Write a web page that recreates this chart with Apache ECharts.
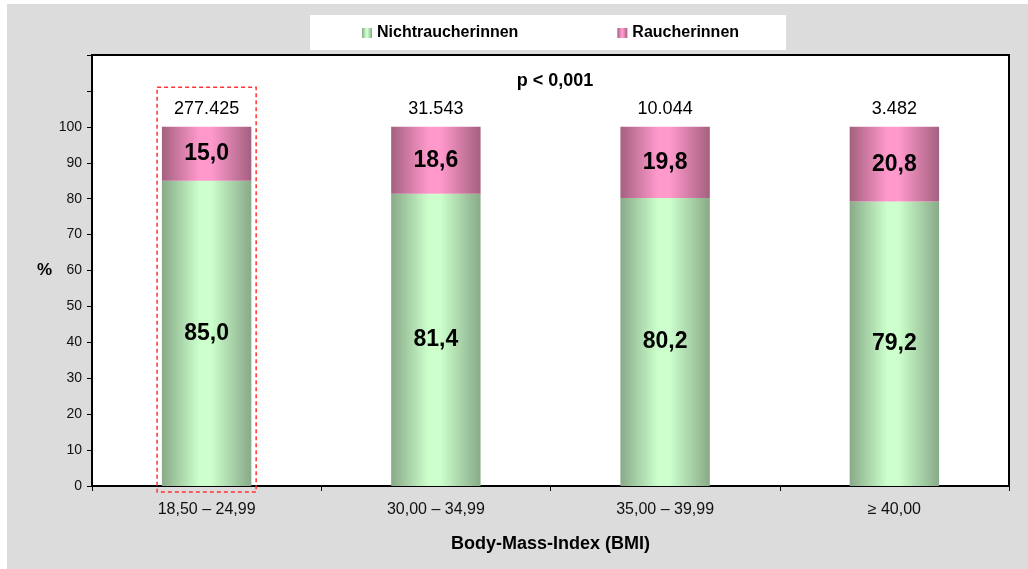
<!DOCTYPE html>
<html>
<head>
<meta charset="utf-8">
<script src="https://cdn.jsdelivr.net/npm/echarts@6/dist/echarts.min.js"></script>
<style>
html,body{margin:0;padding:0;background:#fff;}
#c{width:1028px;height:569px;}
</style>
</head>
<body>
<div id="c"></div>
<script>
var categories = ['18,50 – 24,99', '30,00 – 34,99', '35,00 – 39,99', '≥ 40,00'];
var nichtraucherinnen = [85.0, 81.4, 80.2, 79.2];
var raucherinnen = [15.0, 18.6, 19.8, 20.8];
var totals = ['277.425', '31.543', '10.044', '3.482'];
var yTicks = [0, 10, 20, 30, 40, 50, 60, 70, 80, 90, 100];

function grad(dark, light) {
  return new echarts.graphic.LinearGradient(0, 0, 1, 0, [
    {offset: 0, color: dark},
    {offset: 0.42, color: light},
    {offset: 0.55, color: light},
    {offset: 1, color: dark}
  ]);
}
var FONT = 'Liberation Sans, Arial, sans-serif';
var chart = echarts.init(document.getElementById('c'));
var option = {
  backgroundColor: '#dcdcdc',
  animation: false,
  textStyle: {fontFamily: FONT},
  title: {
    text: 'p < 0,001',
    left: 550, top: 67, textAlign: 'center',
    textStyle: {fontSize: 18, fontWeight: 'bold', color: '#000', fontFamily: FONT}
  },
  legend: {
    left: 310, top: 15,
    padding: [10, 47, 9, 52],
    backgroundColor: '#fff',
    itemGap: 99, itemWidth: 10, itemHeight: 10,
    icon: 'rect',
    data: ['Nichtraucherinnen', 'Raucherinnen'],
    textStyle: {fontSize: 16, fontWeight: 'bold', color: '#000', fontFamily: FONT}
  },
  grid: {
    left: 92, right: 19, top: 55, bottom: 83,
    show: true, backgroundColor: '#fff', borderColor: '#000', borderWidth: 2
  },
  xAxis: {
    type: 'category',
    data: categories,
    name: 'Body-Mass-Index (BMI)',
    nameLocation: 'middle', nameGap: 49,
    nameTextStyle: {fontSize: 18, fontWeight: 'bold', color: '#000', fontFamily: FONT},
    axisLine: {lineStyle: {color: '#000', width: 2}},
    axisTick: {show: true, length: 5, lineStyle: {color: '#000'}},
    axisLabel: {fontSize: 16, color: '#111', margin: 16, fontFamily: FONT}
  },
  yAxis: {
    type: 'value', min: 0, max: 120, interval: 10,
    name: '%', nameLocation: 'middle', nameRotate: 0, nameGap: 40,
    nameTextStyle: {fontSize: 17, fontWeight: 'bold', color: '#000', fontFamily: FONT},
    axisLine: {show: true, lineStyle: {color: '#000', width: 2}},
    axisTick: {show: true, length: 5, lineStyle: {color: '#000'}},
    splitLine: {show: false},
    axisLabel: {
      fontSize: 14, color: '#111', margin: 10, fontFamily: FONT,
      formatter: function (v) { return yTicks.indexOf(v) >= 0 ? String(v) : ''; }
    }
  },
  series: [
    {
      name: 'Nichtraucherinnen', type: 'bar', stack: 's', barWidth: '39%',
      data: nichtraucherinnen,
      itemStyle: {color: grad('#88aa88', '#ccffcc')},
      label: {show: true, position: 'inside', fontSize: 23, fontWeight: 'bold', color: '#000',
        fontFamily: FONT, formatter: function (p) { return p.value.toFixed(1).replace('.', ','); }}
    },
    {
      name: 'Raucherinnen', type: 'bar', stack: 's', barWidth: '39%',
      data: raucherinnen,
      itemStyle: {color: grad('#a5607f', '#ff99cc')},
      label: {show: true, position: 'inside', fontSize: 23, fontWeight: 'bold', color: '#000',
        fontFamily: FONT, formatter: function (p) { return p.value.toFixed(1).replace('.', ','); }}
    },
    {
      name: 'N', type: 'scatter', symbolSize: 0,
      itemStyle: {color: '#000', opacity: 1},
      data: categories.map(function (c, i) { return nichtraucherinnen[i] + raucherinnen[i]; }),
      label: {show: true, position: 'top', distance: 9, fontSize: 18, color: '#000', fontFamily: FONT,
        formatter: function (p) { return totals[p.dataIndex]; }},
      z: 5
    }
  ],
  graphic: [
    {type: 'rect', shape: {x: 0, y: 0, width: 7, height: 569}, style: {fill: '#fff'}, silent: true},
    {type: 'rect', shape: {x: 0, y: 0, width: 1028, height: 4}, style: {fill: '#fff'}, silent: true}
  ]
};
chart.setOption(option);

var p0 = chart.convertToPixel({xAxisIndex: 0, yAxisIndex: 0}, [0, 0]);
var pTop = chart.convertToPixel({xAxisIndex: 0, yAxisIndex: 0}, [0, 111]);
var bandW = chart.convertToPixel({xAxisIndex: 0}, 1) - chart.convertToPixel({xAxisIndex: 0}, 0);
var halfW = bandW * 0.216;
chart.setOption({
  graphic: [
    {type: 'rect', shape: {x: 0, y: 0, width: 7, height: 569}, style: {fill: '#fff'}, silent: true},
    {type: 'rect', shape: {x: 0, y: 0, width: 1028, height: 4}, style: {fill: '#fff'}, silent: true},
    {type: 'rect', z: 100, silent: true,
      shape: {x: p0[0] - halfW, y: pTop[1], width: halfW * 2, height: p0[1] + 6 - pTop[1]},
      style: {fill: 'none', stroke: '#ff3333', lineWidth: 1.5, lineDash: [4, 3]}}
  ]
});
</script>
</body>
</html>
